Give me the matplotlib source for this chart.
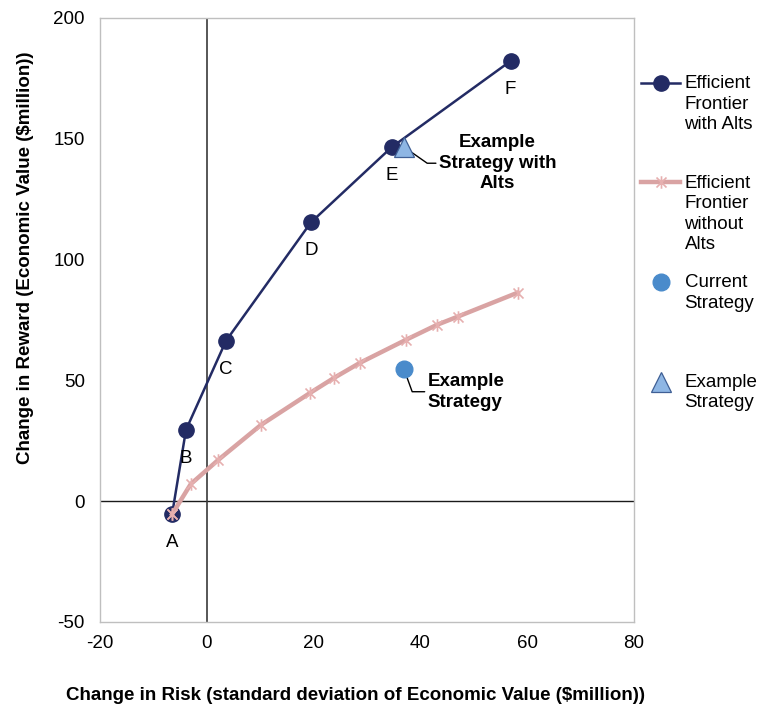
import numpy as np
import matplotlib
matplotlib.use("Agg")
import matplotlib.pyplot as plt
from matplotlib.path import Path
from matplotlib.legend_handler import HandlerLine2D

plt.rcParams['font.family'] = ['Liberation Sans', 'DejaVu Sans']
plt.rcParams['font.size'] = 13.5
plt.rcParams['axes.unicode_minus'] = False

# ---- data ----
with_alts_risk = [-6.5, -3.9, 3.6, 19.5, 34.6, 56.9]
with_alts_reward = [-5.4, 29.5, 66.4, 115.4, 146.5, 182.2]
with_alts_labels = ["A", "B", "C", "D", "E", "F"]

without_alts_risk = [-6.5, -3.0, 2.1, 10.1, 19.4, 23.8, 28.7, 37.3, 43.1, 47.0, 58.2]
without_alts_reward = [-5.4, 7.1, 17.0, 31.5, 44.9, 51.0, 57.3, 66.8, 73.0, 76.4, 86.3]

current_risk = [36.9]
current_reward = [54.8]

example_risk = [37.0]
example_reward = [146.5]

x_ticks = [-20, 0, 20, 40, 60, 80]
y_ticks = [-50, 0, 50, 100, 150, 200]

# ---- style ----
navy = '#232B64'
pink = '#D9A3A3'
pink_marker = '#E6AFAF'
cur_blue = '#4A8BCB'
tri_fill = '#8EB6E4'
FS = 13.5

star = Path([(-1, -1), (1, 1), (-1, 1), (1, -1), (0, -1.25), (0, 1.25)],
            [Path.MOVETO, Path.LINETO, Path.MOVETO, Path.LINETO, Path.MOVETO, Path.LINETO])

fig = plt.figure(figsize=(7.62, 7.06), dpi=100)
ax = fig.add_axes([100 / 762, 1 - 622 / 706, 534 / 762, 604 / 706])

ax.set_xlim(-20, 80)
ax.set_ylim(-50, 200)
ax.set_xticks(x_ticks)
ax.set_yticks(y_ticks)
ax.tick_params(length=0, labelsize=FS)
ax.tick_params(axis='x', pad=9.5)
ax.tick_params(axis='y', pad=11)
for s in ax.spines.values():
    s.set_color('#BFBFBF')
    s.set_linewidth(1.0)
ax.axhline(0, color='#1A1A1A', lw=1.0, zorder=1)
ax.axvline(0, color='#3A3A3A', lw=1.2, zorder=1)

ax.plot(without_alts_risk, without_alts_reward, color=pink, lw=3.2, marker=star,
        markersize=9, markeredgecolor=pink_marker, markerfacecolor='none',
        markeredgewidth=1.2, zorder=3, label='Efficient\nFrontier\nwithout\nAlts')
ax.plot(with_alts_risk, with_alts_reward, color=navy, lw=1.8, marker='o',
        markersize=11, markerfacecolor=navy, markeredgecolor=navy, zorder=2,
        label='Efficient\nFrontier\nwith Alts')
# first pink marker drawn again above the navy dot (point A)
ax.plot(without_alts_risk[:1], without_alts_reward[:1], linestyle='none', marker=star,
        markersize=9, markeredgecolor=pink_marker, markerfacecolor='none',
        markeredgewidth=1.2, zorder=4)
ax.plot(current_risk, current_reward, linestyle='none', marker='o', markersize=12,
        color=cur_blue, zorder=5, label='Current\nStrategy')
ax.plot(example_risk, example_reward, linestyle='none', marker='^', markersize=15,
        markerfacecolor=tri_fill, markeredgecolor='#3F5F95', markeredgewidth=0.9,
        zorder=5, label='Example\nStrategy')

for x, y, t in zip(with_alts_risk, with_alts_reward, with_alts_labels):
    ax.annotate(t, (x, y), xytext=(0, -20.5), textcoords='offset points',
                ha='center', va='center', fontsize=FS)

ax.annotate('Example\nStrategy with\nAlts', (example_risk[0], example_reward[0]),
            xytext=(67, -11.5), textcoords='offset points', ha='center', va='center',
            fontsize=FS, fontweight='bold', linespacing=1.28,
            arrowprops=dict(arrowstyle='-', color='black', lw=1.0,
                            connectionstyle='angle,angleA=0,angleB=-35,rad=0',
                            shrinkA=0, shrinkB=2))
ax.annotate('Example\nStrategy', (current_risk[0], current_reward[0]),
            xytext=(17, -16.5), textcoords='offset points', ha='left', va='center',
            fontsize=FS, fontweight='bold', linespacing=1.28,
            arrowprops=dict(arrowstyle='-', color='black', lw=1.0,
                            connectionstyle='angle,angleA=0,angleB=-70,rad=0',
                            shrinkA=0, shrinkB=0))

ax.set_xlabel('Change in Risk (standard deviation of Economic Value ($million))',
              fontsize=FS, fontweight='bold')
ax.set_ylabel('Change in Reward (Economic Value ($million))',
              fontsize=FS, fontweight='bold')
ax.xaxis.set_label_coords((355 - 100) / 534, (622 - 687) / 604)
ax.yaxis.set_label_coords((34 - 100) / 534, (622 - 257.5) / 604)


class TopHandler(HandlerLine2D):
    def __init__(self, shift, **kw):
        super().__init__(**kw)
        self.shift = shift

    def create_artists(self, legend, orig_handle, xdescent, ydescent, width,
                       height, fontsize, trans):
        arts = super().create_artists(legend, orig_handle, xdescent, ydescent,
                                      width, height, fontsize, trans)
        for a in arts:
            a.set_ydata(np.asarray(a.get_ydata(), dtype=float) + self.shift)
        return arts


handles, labels = ax.get_legend_handles_labels()
order = [1, 0, 2, 3]
handles = [handles[i] for i in order]
labels = [labels[i] for i in order]
nlines = [l.count('\n') + 1 for l in labels]
padded = [l + '\n' * (4 - n) for l, n in zip(labels, nlines)]
line_pt = 21 * 72 / 100
hmap = {h: TopHandler(shift=1.5 * line_pt) for h in handles}
leg = fig.legend(handles, padded, loc='upper left', bbox_to_anchor=(641 / 762, 1 - 75 / 706),
                 frameon=False, fontsize=FS, handlelength=2.1, handletextpad=0.22,
                 labelspacing=1.1, borderpad=0, borderaxespad=0, handler_map=hmap)
for t in leg.get_texts():
    t.set_linespacing(1.28)

fig.savefig('out.png', dpi=100)
